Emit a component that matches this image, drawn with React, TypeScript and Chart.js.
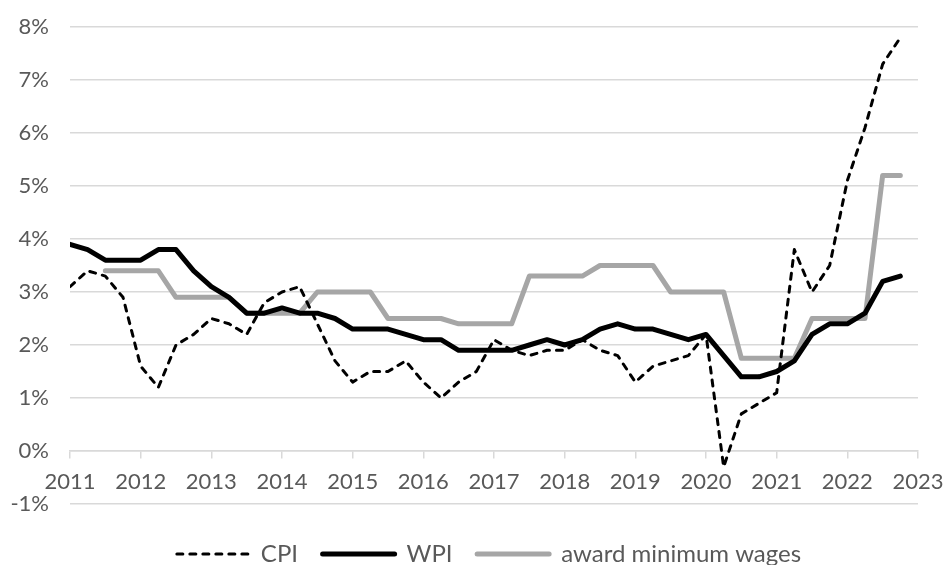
import { useEffect, useRef } from 'react';
import { Chart, registerables } from 'chart.js';

Chart.register(...registerables);

const quarters = [
  2011, 2011.25, 2011.5, 2011.75,
  2012, 2012.25, 2012.5, 2012.75,
  2013, 2013.25, 2013.5, 2013.75,
  2014, 2014.25, 2014.5, 2014.75,
  2015, 2015.25, 2015.5, 2015.75,
  2016, 2016.25, 2016.5, 2016.75,
  2017, 2017.25, 2017.5, 2017.75,
  2018, 2018.25, 2018.5, 2018.75,
  2019, 2019.25, 2019.5, 2019.75,
  2020, 2020.25, 2020.5, 2020.75,
  2021, 2021.25, 2021.5, 2021.75,
  2022, 2022.25, 2022.5, 2022.75,
];

const cpi = [
  3.1, 3.4, 3.3, 2.9,
  1.6, 1.2, 2.0, 2.2,
  2.5, 2.4, 2.2, 2.8,
  3.0, 3.1, 2.4, 1.7,
  1.3, 1.5, 1.5, 1.7,
  1.3, 1.0, 1.3, 1.5,
  2.1, 1.9, 1.8, 1.9,
  1.9, 2.1, 1.9, 1.8,
  1.3, 1.6, 1.7, 1.8,
  2.2, -0.3, 0.7, 0.9,
  1.1, 3.8, 3.0, 3.5,
  5.1, 6.1, 7.3, 7.8,
];

const wpi = [
  3.9, 3.8, 3.6, 3.6,
  3.6, 3.8, 3.8, 3.4,
  3.1, 2.9, 2.6, 2.6,
  2.7, 2.6, 2.6, 2.5,
  2.3, 2.3, 2.3, 2.2,
  2.1, 2.1, 1.9, 1.9,
  1.9, 1.9, 2.0, 2.1,
  2.0, 2.1, 2.3, 2.4,
  2.3, 2.3, 2.2, 2.1,
  2.2, 1.8, 1.4, 1.4,
  1.5, 1.7, 2.2, 2.4,
  2.4, 2.6, 3.2, 3.3,
];

const awardMinWages = [
  null, null, 3.4, 3.4,
  3.4, 3.4, 2.9, 2.9,
  2.9, 2.9, 2.6, 2.6,
  2.6, 2.6, 3.0, 3.0,
  3.0, 3.0, 2.5, 2.5,
  2.5, 2.5, 2.4, 2.4,
  2.4, 2.4, 3.3, 3.3,
  3.3, 3.3, 3.5, 3.5,
  3.5, 3.5, 3.0, 3.0,
  3.0, 3.0, 1.75, 1.75,
  1.75, 1.75, 2.5, 2.5,
  2.5, 2.5, 5.2, 5.2,
];

const seriesLabels = ['CPI', 'WPI', 'award minimum wages'];
const xTickMin = 2011;
const xTickMax = 2023;
const yTickMin = -1;
const yTickMax = 8;

const FONT = 'Lato';
const TEXT = '#595959';
const GRID = '#D9D9D9';
const LEGEND_SHIFT = 30;

const legendShift = {
  id: 'legendShift',
  afterLayout(chart: any) {
    const lg = chart.legend;
    if (lg) {
      lg.left += LEGEND_SHIFT;
      lg.right += LEGEND_SHIFT;
    }
  },
};

export default function App() {
  const ref = useRef<HTMLCanvasElement>(null);

  useEffect(() => {
    document.body.style.margin = '0';
    const toPts = (vals: (number | null)[]) => quarters.map((q, i) => ({ x: q, y: vals[i] }));
    const chart = new Chart(ref.current!, {
      type: 'line',
      plugins: [legendShift],
      data: {
        datasets: [
          {
            label: seriesLabels[0],
            data: toPts(cpi),
            borderColor: '#000000',
            backgroundColor: '#000000',
            borderWidth: 3,
            borderDash: [6, 7],
            borderCapStyle: 'round',
            borderJoinStyle: 'round',
            pointRadius: 0,
            tension: 0,
          },
          {
            label: seriesLabels[1],
            data: toPts(wpi),
            borderColor: '#000000',
            backgroundColor: '#000000',
            borderWidth: 5,
            borderCapStyle: 'round',
            borderJoinStyle: 'round',
            pointRadius: 0,
            tension: 0,
          },
          {
            label: seriesLabels[2],
            data: toPts(awardMinWages),
            borderColor: '#A6A6A6',
            backgroundColor: '#A6A6A6',
            borderWidth: 5,
            borderCapStyle: 'round',
            borderJoinStyle: 'round',
            pointRadius: 0,
            tension: 0,
          },
        ] as any,
      },
      options: {
        animation: false,
        responsive: true,
        maintainAspectRatio: false,
        layout: { padding: { top: 27, right: 28, left: 0, bottom: -11 } },
        scales: {
          x: {
            type: 'linear',
            min: xTickMin,
            max: xTickMax,
            position: { y: 0 } as any,
            afterFit: (scale: any) => {
              scale.paddingRight = 0;
              scale.paddingLeft = 0;
            },
            grid: {
              display: true,
              drawOnChartArea: false,
              drawTicks: true,
              tickLength: 7,
              color: GRID,
              lineWidth: 1.5,
            },
            border: { display: true, color: GRID, width: 1.5 },
            ticks: {
              stepSize: 1,
              autoSkip: false,
              maxRotation: 0,
              padding: 11,
              color: TEXT,
              font: { family: FONT, size: 22 },
              callback: (v: any) => String(v),
            },
          },
          y: {
            min: yTickMin,
            max: yTickMax,
            afterFit: (scale: any) => {
              scale.width = 70;
            },
            grid: {
              color: GRID,
              lineWidth: 1.5,
              drawTicks: true,
              tickLength: 21,
              tickColor: 'rgba(0,0,0,0)',
            },
            border: { display: false },
            ticks: {
              stepSize: 1,
              padding: 0,
              color: TEXT,
              font: { family: FONT, size: 22 },
              callback: (v: any) => v + '%',
            },
          },
        },
        plugins: {
          tooltip: { enabled: false },
          legend: {
            position: 'bottom',
            title: { display: true, text: '', font: { size: 10 }, padding: { top: 26, bottom: 0 } },
            labels: {
              usePointStyle: true,
              pointStyleWidth: 72,
              padding: 0,
              color: TEXT,
              font: { family: FONT, size: 24 },
              generateLabels: (c: any) => {
                const items = Chart.defaults.plugins.legend.labels.generateLabels(c);
                return items.map((it: any, i: number) => {
                  const ds: any = c.data.datasets[it.datasetIndex];
                  return {
                    ...it,
                    text: i < items.length - 1 ? it.text + '    ' : it.text,
                    pointStyle: 'line',
                    rotation: 0,
                    lineWidth: ds.borderWidth,
                    lineDash: ds.borderDash || [],
                    lineCap: ds.borderCapStyle,
                    strokeStyle: ds.borderColor,
                    fillStyle: ds.borderColor,
                  };
                });
              },
            },
          },
        },
      },
    });
    return () => chart.destroy();
  }, []);

  return (
    <div style={{ position: 'relative', width: 946, height: 565 }}>
      <canvas ref={ref} />
    </div>
  );
}
